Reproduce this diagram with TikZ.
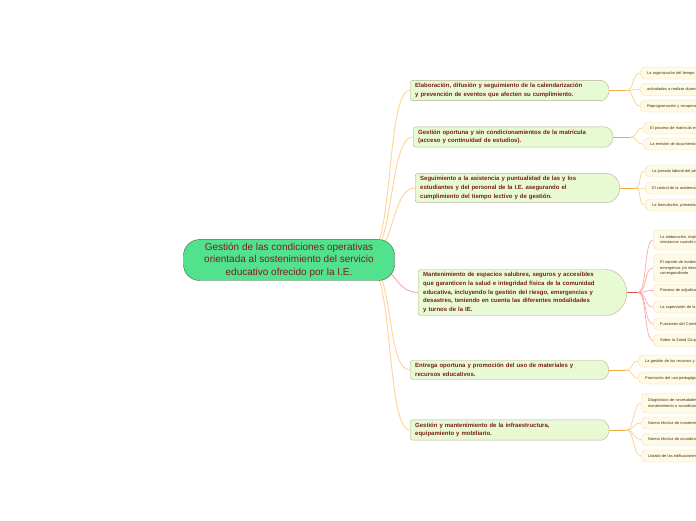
\documentclass[tikz,border=0pt]{standalone}
\usepackage{fontspec}
\setmainfont{Liberation Sans}
\usetikzlibrary{shapes.misc,backgrounds}
\definecolor{rootfill}{HTML}{52E28E}
\definecolor{rootline}{HTML}{3F5F45}
\definecolor{txt}{HTML}{7B1E1E}
\definecolor{topfill}{HTML}{E7FAD3}
\definecolor{topline}{HTML}{B8AE92}
\definecolor{leaffill}{HTML}{FDFBE5}
\definecolor{leafline}{HTML}{F5DFA6}
\definecolor{leaftxt}{HTML}{4A2A20}
\definecolor{linkor}{HTML}{FDD39A}
\definecolor{huborange}{HTML}{F4A93C}
\definecolor{twigor}{HTML}{F9CF8C}
\definecolor{linkpink}{HTML}{F8A9A9}
\definecolor{hubred}{HTML}{E6504E}

\begin{document}
\begin{tikzpicture}[x=1pt, y=-1pt,
  root/.style={draw=rootline, fill=rootfill, rounded corners=16pt, minimum width=211pt, minimum height=40pt,
    align=center, text=txt, font=\fontsize{10}{12.4}\selectfont},
  topic/.style={rounded rectangle, rounded rectangle left arc=none, rounded corners=2.5pt, draw=topline, fill=topfill,
    text=txt, align=left, anchor=west, text width=186pt, inner xsep=5pt, inner ysep=3pt,
    font=\fontsize{6}{8.6}\selectfont\bfseries},
  leaf/.style={draw=leafline, fill=leaffill, rounded corners=5pt, anchor=west, align=left, minimum width=110pt,
    minimum height=12pt, text width=96pt, inner xsep=6pt, inner ysep=1.5pt, text=leaftxt, font=\fontsize{3.9}{5.6}\selectfont},
  mainlink/.style={draw=linkor, line width=0.9pt},
  hub/.style={draw=huborange, line width=1pt},
  twig/.style={draw=twigor, line width=0.7pt}]
  \useasboundingbox (0,0) rectangle (696,520);

  \node[root] (c) at (289,260) {Gestión de las condiciones operativas\\orientada al sostenimiento del servicio\\educativo ofrecido por la I.E.};
  \coordinate (cx) at (365,260);

  \node[topic] (t1) at (410,90.5) {Elaboración, difusión y seguimiento de la calendarización\\y prevención de eventos que afecten su cumplimiento.};
  \node[topic, text width=187pt] (t2) at (413,137) {Gestión oportuna y sin condicionamientos de la matrícula\\(acceso y continuidad de estudios).};
  \node[topic, text width=189pt] (t3) at (415,188) {Seguimiento a la asistencia y puntualidad de las y los\\estudiantes y del personal de la I.E. asegurando el\\cumplimiento del tiempo lectivo y de gestión.};
  \node[topic, text width=187pt] (t4) at (418,292.5) {Mantenimiento de espacios salubres, seguros y accesibles\\que garanticen la salud e integridad física de la comunidad\\educativa, incluyendo la gestión del riesgo, emergencias y\\desastres, teniendo en cuenta las diferentes modalidades\\y turnos de la IE.};
  \node[topic] (t5) at (410,370) {Entrega oportuna y promoción del uso de materiales y\\recursos educativos.};
  \node[topic] (t6) at (410,430) {Gestión y mantenimiento de la infraestructura,\\equipamiento y mobiliario.};

  \begin{scope}[on background layer]
    \draw[mainlink] (cx) .. controls +(30,0) and +(-25,0) .. (t1.west);
    \draw[mainlink] (cx) .. controls +(30,0) and +(-25,0) .. (t2.west);
    \draw[mainlink] (cx) .. controls +(30,0) and +(-25,0) .. (t3.west);
    \draw[mainlink, draw=linkpink] (cx) .. controls +(30,0) and +(-25,0) .. (t4.west);
    \draw[mainlink] (cx) .. controls +(30,0) and +(-25,0) .. (t5.west);
    \draw[mainlink] (cx) .. controls +(30,0) and +(-25,0) .. (t6.west);
  \end{scope}

  \node[leaf] (l11) at (640,73) {La organización del tiempo a lo largo del año};
  \node[leaf] (l12) at (640,89.5) {actividades a realizar durante el año escolar};
  \node[leaf] (l13) at (640,106) {Reprogramación y recuperación de horas};
  \node[leaf] (l21) at (643,128) {El proceso de matrícula escolar};
  \node[leaf] (l22) at (643,144) {La emisión de documentos oficiales};
  \node[leaf] (l31) at (645,171) {La jornada laboral del personal};
  \node[leaf] (l32) at (645,188) {El control de la asistencia diaria};
  \node[leaf] (l33) at (645,205) {La formulación, presentación};
  \node[leaf, minimum height=20pt] (l41) at (653,240) {La elaboración, implementación\\simulacros cuando corresponda};
  \node[leaf, minimum height=28pt] (l42) at (653,268) {El reporte de incidencias\\emergencia y/o desastres\\correspondiente};
  \node[leaf] (l43) at (653,290.5) {Proceso de adjudicación};
  \node[leaf] (l44) at (653,307) {La supervisión de la};
  \node[leaf] (l45) at (653,324) {Funciones del Comité};
  \node[leaf] (l46) at (653,340.5) {Sobre la Salud Ocupacional};
  \node[leaf] (l51) at (638,361) {La gestión de los recursos y materiales};
  \node[leaf] (l52) at (638,378) {Promoción del uso pedagógico};
  \node[leaf, minimum height=20pt] (l61) at (641,403) {Diagnóstico de necesidades de\\mantenimiento o acondicionamiento};
  \node[leaf] (l62) at (641,423) {Norma técnica de mantenimiento};
  \node[leaf] (l63) at (641,439.5) {Norma técnica de acondicionamiento};
  \node[leaf] (l64) at (641,456) {Listado de las edificaciones};

  \draw[hub] (t1.east) -- ++(17,0) coordinate (h1);
  \draw[twig] (h1) .. controls +(8,0) and +(-8,0) .. (l11.west);
  \draw[twig] (h1) .. controls +(8,0) and +(-8,0) .. (l12.west);
  \draw[twig] (h1) .. controls +(8,0) and +(-8,0) .. (l13.west);
  \draw[hub] (t2.east) -- ++(17,0) coordinate (h2);
  \draw[twig] (h2) .. controls +(8,0) and +(-8,0) .. (l21.west);
  \draw[twig] (h2) .. controls +(8,0) and +(-8,0) .. (l22.west);
  \draw[hub] (t3.east) -- ++(15,0) coordinate (h3);
  \draw[twig] (h3) .. controls +(8,0) and +(-8,0) .. (l31.west);
  \draw[twig] (h3) .. controls +(8,0) and +(-8,0) .. (l32.west);
  \draw[twig] (h3) .. controls +(8,0) and +(-8,0) .. (l33.west);
  \draw[hub, draw=hubred] (t4.east) -- ++(11,0) coordinate (h4);
  \draw[twig, draw=linkpink] (h4) .. controls +(9,0) and +(-9,0) .. (l41.west);
  \draw[twig, draw=linkpink] (h4) .. controls +(9,0) and +(-9,0) .. (l42.west);
  \draw[twig, draw=linkpink] (h4) .. controls +(9,0) and +(-9,0) .. (l43.west);
  \draw[twig, draw=linkpink] (h4) .. controls +(9,0) and +(-9,0) .. (l44.west);
  \draw[twig, draw=linkpink] (h4) .. controls +(9,0) and +(-9,0) .. (l45.west);
  \draw[twig, draw=linkpink] (h4) .. controls +(9,0) and +(-9,0) .. (l46.west);
  \draw[hub] (t5.east) -- ++(17,0) coordinate (h5);
  \draw[twig] (h5) .. controls +(7,0) and +(-7,0) .. (l51.west);
  \draw[twig] (h5) .. controls +(7,0) and +(-7,0) .. (l52.west);
  \draw[hub] (t6.east) -- ++(17,0) coordinate (h6);
  \draw[twig] (h6) .. controls +(8,0) and +(-8,0) .. (l61.west);
  \draw[twig] (h6) .. controls +(8,0) and +(-8,0) .. (l62.west);
  \draw[twig] (h6) .. controls +(8,0) and +(-8,0) .. (l63.west);
  \draw[twig] (h6) .. controls +(8,0) and +(-8,0) .. (l64.west);
\end{tikzpicture}
\end{document}
